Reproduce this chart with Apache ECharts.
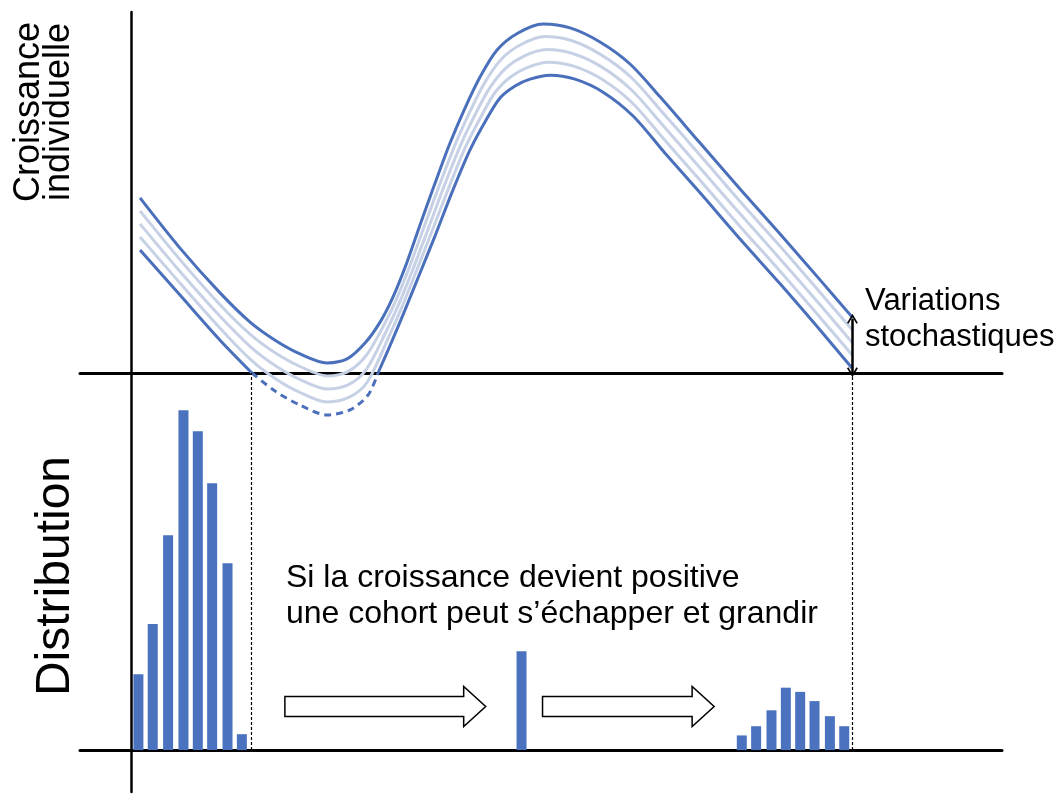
<!DOCTYPE html>
<html>
<head>
<meta charset="utf-8">
<script src="https://cdn.jsdelivr.net/npm/echarts@6/dist/echarts.min.js"></script>
<style>html,body{margin:0;padding:0;background:#fff;}#main{width:1062px;height:796px;}</style>
</head>
<body>
<div id="main"></div>
<script>
// ---- Top panel: individual growth curves (x = size, y = growth) ----
const upperCurve = [[0.86,4.85],[4.76,3.46],[8.67,2.22],[11.60,1.41],[14.04,0.91],[16.48,0.53],[19.11,0.28],[21.07,0.39],[22.82,0.83],[24.29,1.41],[25.56,2.11],[26.92,3.07],[28.19,4.10],[29.66,5.26],[31.12,6.37],[32.58,7.34],[34.05,8.20],[35.71,8.95],[37.76,9.42],[40.20,9.67],[42.84,9.56],[45.76,9.17],[48.69,8.56],[51.62,7.65],[55.53,6.37],[59.43,5.10],[63.34,3.85],[67.24,2.58],[70.46,1.52]];
const innerCurve1 = [[0.86,4.49],[4.76,3.14],[8.67,1.89],[11.65,1.06],[14.04,0.56],[16.48,0.18],[19.11,-0.08],[21.14,0.04],[22.90,0.47],[24.58,1.28],[25.85,2.02],[27.24,3.00],[28.56,4.03],[30.08,5.20],[31.61,6.32],[33.10,7.26],[34.54,8.06],[36.15,8.70],[38.05,9.10],[40.37,9.32],[42.96,9.21],[45.84,8.82],[48.77,8.20],[51.74,7.26],[55.53,6.03],[59.43,4.75],[63.34,3.51],[67.24,2.23],[70.44,1.18]];
const innerCurve2 = [[0.86,4.13],[4.76,2.81],[8.67,1.57],[11.70,0.71],[14.04,0.21],[16.48,-0.18],[19.11,-0.44],[21.22,-0.32],[22.97,0.11],[24.88,1.15],[26.15,1.93],[27.56,2.92],[28.93,3.95],[30.49,5.14],[32.10,6.28],[33.61,7.18],[35.03,7.91],[36.59,8.45],[38.35,8.78],[40.54,8.96],[43.08,8.85],[45.91,8.48],[48.84,7.84],[51.87,6.87],[55.53,5.68],[59.43,4.41],[63.34,3.16],[67.24,1.89],[70.41,0.83]];
const innerCurve3 = [[0.86,3.77],[4.76,2.49],[8.67,1.24],[11.74,0.35],[14.04,-0.15],[16.48,-0.54],[19.11,-0.80],[21.29,-0.67],[23.05,-0.25],[25.17,1.02],[26.44,1.84],[27.87,2.85],[29.29,3.88],[30.91,5.07],[32.58,6.23],[34.13,7.09],[35.51,7.77],[37.03,8.20],[38.64,8.46],[40.71,8.61],[43.20,8.50],[45.99,8.13],[48.92,7.48],[51.99,6.48],[55.53,5.34],[59.43,4.06],[63.34,2.82],[67.24,1.54],[70.39,0.49]];
const lowerCurveLeft = [[0.86,3.41],[4.76,2.16],[8.67,0.91],[11.79,0.00]];
const lowerCurveNegative = [[11.79,0.00],[14.04,-0.50],[16.48,-0.89],[19.11,-1.16],[21.36,-1.02],[23.12,-0.61],[24.09,0.00]];
const lowerCurveRight = [[24.09,0.00],[25.46,0.89],[26.73,1.75],[28.19,2.77],[29.66,3.80],[31.32,5.01],[33.07,6.18],[34.64,7.01],[36.00,7.62],[37.47,7.95],[38.93,8.14],[40.88,8.25],[43.32,8.14],[46.06,7.78],[48.99,7.12],[52.11,6.09],[55.53,4.99],[59.43,3.71],[63.34,2.47],[67.24,1.19],[70.36,0.14]];
const variationArrow = [[70.4,1.50],[70.4,0.02]];

// ---- Bottom panel: size distributions ----
const leftSizes  = [0.7,2.1,3.6,5.1,6.5,7.9,9.4,10.8];
const leftCounts = [1.81,3.01,5.13,8.11,7.61,6.37,4.46,0.38];
const cohortSizes  = [38.1];
const cohortCounts = [2.36];
const rightSizes  = [59.6,61.0,62.5,63.9,65.3,66.7,68.2,69.6];
const rightCounts = [0.35,0.57,0.95,1.49,1.39,1.17,0.81,0.57];
const cutoffSizes = [11.7, 70.35];
const arrowStart = [15.0, 40.15];
const arrowEnd   = [34.6, 56.9];
const arrowLevel = [1.04, 1.04];

// ---- Texts ----
const topLabel = 'Croissance\nindividuelle';
const bottomLabel = 'Distribution';
const variationLabel = 'Variations\nstochastiques';
const noteLabel = 'Si la croissance devient positive\nune cohort peut s\u2019échapper et grandir';

const DARK = '#4a6fbb';
const LIGHT = '#c7d1e6';
const FONT = '"Liberation Sans", Arial, sans-serif';

const barData = [];
leftSizes.forEach((x,i)=>barData.push([x,leftCounts[i]]));
cohortSizes.forEach((x,i)=>barData.push([x,cohortCounts[i]]));
rightSizes.forEach((x,i)=>barData.push([x,rightCounts[i]]));

const arrowData = arrowStart.map((x,i)=>[x, arrowEnd[i], arrowLevel[i]]);

function lineSeries(data, color, z, dashed){
  return {
    type:'line', xAxisIndex:0, yAxisIndex:0, data:data, showSymbol:false, symbol:'none',
    smooth:0.3, clip:false, z:z, silent:true,
    lineStyle:{color:color, width:3, type: dashed ? [7,5] : 'solid'}
  };
}

const axisCommon = {
  axisLine:{show:true, onZero:true, lineStyle:{color:'#000', width:3}},
  axisTick:{show:false}, axisLabel:{show:false}, splitLine:{show:false}
};
const yAxisLine = {axisLine:{show:true, onZero:true, lineStyle:{color:'#000', width:2.5}}};
const CHEVRON = 'path://M0,10L6,0L12,10L10.4,11L6,3.6L1.6,11Z';

const chart = echarts.init(document.getElementById('main'), null, {renderer:'canvas'});
chart.setOption({
  animation:false,
  backgroundColor:'#fff',
  grid:[
    {left:80, right:60, top:12, height:361},
    {left:80, right:60, top:373, height:419}
  ],
  xAxis:[
    Object.assign({type:'value', gridIndex:0, min:-5, max:85}, axisCommon),
    Object.assign({type:'value', gridIndex:1, min:-5, max:85}, axisCommon)
  ],
  yAxis:[
    Object.assign({type:'value', gridIndex:0, min:0, max:10}, axisCommon, yAxisLine),
    Object.assign({type:'value', gridIndex:1, min:-1, max:9}, axisCommon, yAxisLine)
  ],
  series:[
    lineSeries(innerCurve1, LIGHT, 2, false),
    lineSeries(innerCurve2, LIGHT, 2, false),
    lineSeries(innerCurve3, LIGHT, 2, false),
    Object.assign(lineSeries(upperCurve, DARK, 3, false), {
      markLine:{
        silent:true, symbol:[CHEVRON, CHEVRON], symbolSize:[12,10], symbolKeepAspect:true,
        label:{show:false},
        lineStyle:{color:'#000', width:2.5, type:'solid'},
        data:[[{coord:variationArrow[0]},{coord:variationArrow[1]}]]
      }
    }),
    lineSeries(lowerCurveLeft, DARK, 3, false),
    lineSeries(lowerCurveNegative, DARK, 3, true),
    lineSeries(lowerCurveRight, DARK, 3, false),
    {
      type:'bar', xAxisIndex:1, yAxisIndex:1, data:barData, barWidth:10,
      itemStyle:{color:'#4a72bf'}, silent:true, z:2,
      markLine:{
        silent:true, symbol:['none','none'], label:{show:false},
        lineStyle:{color:'#000', width:1.2, type:[3,2]},
        data: cutoffSizes.map(x=>[{coord:[x,0]},{coord:[x,9]}])
      }
    },
    {
      type:'custom', xAxisIndex:1, yAxisIndex:1, data:arrowData, silent:true, z:3,
      renderItem:function(params, api){
        const p0 = api.coord([api.value(0), api.value(2)]);
        const p1 = api.coord([api.value(1), api.value(2)]);
        const bh = 10, hh = 20, hl = 22;
        const y = p0[1], x0 = p0[0], x1 = p1[0];
        return {
          type:'polygon',
          shape:{points:[[x0,y-bh],[x1-hl,y-bh],[x1-hl,y-hh],[x1,y],[x1-hl,y+hh],[x1-hl,y+bh],[x0,y+bh]]},
          style:{fill:'#fff', stroke:'#000', lineWidth:1.5}
        };
      }
    }
  ],
  graphic:[
    {type:'text', x:44, y:112, rotation:Math.PI/2, silent:true,
     style:{text:topLabel, font:'36px '+FONT, fill:'#000', textAlign:'center', textVerticalAlign:'middle', lineHeight:30}},
    {type:'text', x:56, y:576, rotation:Math.PI/2, silent:true,
     style:{text:bottomLabel, font:'48px '+FONT, fill:'#000', textAlign:'center', textVerticalAlign:'middle'}},
    {type:'text', x:865, y:319, silent:true,
     style:{text:variationLabel, font:'31px '+FONT, fill:'#000', textAlign:'left', textVerticalAlign:'middle', lineHeight:36}},
    {type:'text', x:286, y:596, silent:true,
     style:{text:noteLabel, font:'32px '+FONT, fill:'#000', textAlign:'left', textVerticalAlign:'middle', lineHeight:36}}
  ]
});
</script>
</body>
</html>
